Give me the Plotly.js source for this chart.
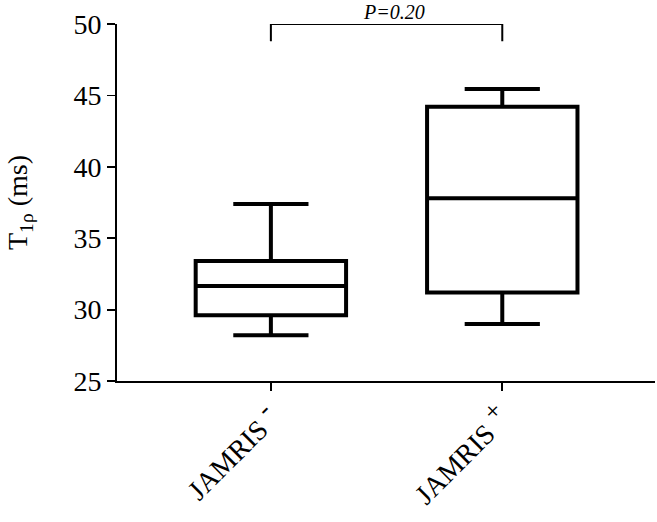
<!DOCTYPE html>
<html>
<head>
<meta charset="utf-8">
<script src="https://cdn.plot.ly/plotly-3.0.1.min.js"></script>
<style>
  html, body { margin: 0; padding: 0; background: #fff; }
  #chart { width: 657px; height: 522px; }
</style>
</head>
<body>
<div id="chart"></div>
<script>
// groups
var groups = ["JAMRIS <sup><span style='font-size:26px'>-</span></sup>",
              "JAMRIS <sup><span style='font-size:26px'>+</span></sup>"];

// box summary values (ms)
var lowerWhisker = [28.2, 29.0];
var q1 = [29.6, 31.2];
var median = [31.65, 37.8];
var q3 = [33.4, 44.2];
var upperWhisker = [37.4, 45.45];

// significance bracket
var bracketTop = 50;
var bracketFoot = 48.8;
var pLabel = "P=0.20";

var boxTrace = {
    type: "box",
    x: groups,
    q1: q1,
    median: median,
    q3: q3,
    lowerfence: lowerWhisker,
    upperfence: upperWhisker,
    width: 0.65,
    whiskerwidth: 0.5,
    fillcolor: "rgba(0,0,0,0)",
    line: {color: "#000", width: 4},
    boxpoints: false,
    hoverinfo: "skip",
    showlegend: false
};

var bracket = {
    type: "scatter",
    mode: "lines",
    x: [groups[0], groups[0], groups[1], groups[1]],
    y: [bracketFoot, bracketTop, bracketTop, bracketFoot],
    line: {color: "#000", width: 2},
    cliponaxis: false,
    hoverinfo: "skip",
    showlegend: false
};

var layout = {
    width: 657,
    height: 522,
    margin: {l: 117, r: 2, t: 24, b: 141},
    paper_bgcolor: "#fff",
    plot_bgcolor: "#fff",
    font: {family: "Liberation Serif, Times New Roman, serif", color: "#000"},
    showlegend: false,
    hovermode: false,
    xaxis: {
        type: "category",
        range: [-0.665, 1.66],
        showline: true,
        linecolor: "#000",
        linewidth: 1.8,
        ticks: "outside",
        ticklen: 8,
        tickwidth: 1.8,
        tickcolor: "#000",
        tickangle: -45,
        tickfont: {size: 28},
        showgrid: false,
        zeroline: false,
        automargin: false
    },
    yaxis: {
        range: [25, 50],
        dtick: 5,
        showline: true,
        linecolor: "#000",
        linewidth: 1.8,
        ticks: "outside",
        ticklen: 8,
        tickwidth: 1.8,
        tickcolor: "#000",
        tickfont: {size: 28},
        showgrid: false,
        zeroline: false,
        automargin: false,
        title: {text: "T<sub>1ρ</sub> (ms)", font: {size: 28}, standoff: 38}
    },
    annotations: [{
        x: 0.53,
        xref: "x",
        y: 1,
        yref: "paper",
        yanchor: "bottom",
        yshift: -1,
        text: "<i>" + pLabel + "</i>",
        showarrow: false,
        font: {size: 20}
    }]
};

Plotly.newPlot("chart", [boxTrace, bracket], layout, {displayModeBar: false, staticPlot: true});
</script>
</body>
</html>
